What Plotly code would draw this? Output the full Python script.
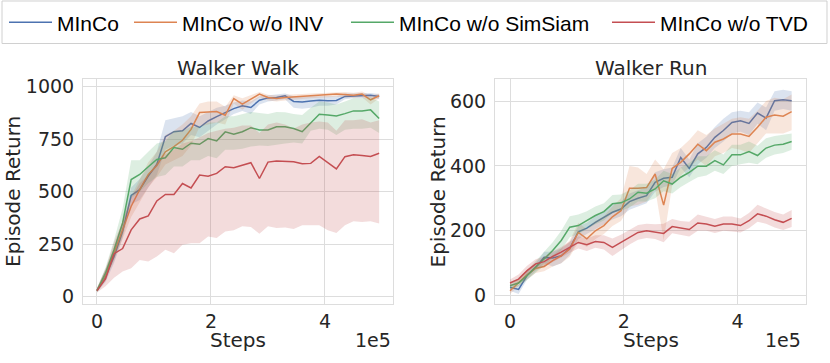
import plotly.graph_objects as go

# ---------------- data ----------------
steps = list(range(0, 500000, 15000))  # 34 evaluation points

series_names = ["MInCo", "MInCo w/o INV", "MInCo w/o SimSiam", "MInCo w/o TVD"]
colors = ["#4c72b0", "#dd8452", "#55a868", "#c44e52"]
fills = ["rgba(76,114,176,0.2)", "rgba(221,132,82,0.2)", "rgba(85,168,104,0.2)", "rgba(196,78,82,0.2)"]

# Walker Walk
walk_mean = [
    [29, 96, 191, 311, 482, 510, 574, 630, 762, 786, 790, 825, 806, 837, 858, 877, 896,
     909, 901, 936, 947, 949, 957, 930, 928, 932, 936, 933, 935, 954, 957, 957, 960, 954],
    [29, 104, 207, 319, 431, 510, 582, 625, 690, 715, 745, 797, 877, 880, 882, 864, 944,
     917, 941, 965, 949, 944, 949, 952, 954, 957, 960, 963, 965, 963, 960, 965, 938, 957],
    [29, 112, 223, 351, 558, 582, 619, 654, 662, 710, 702, 731, 726, 753, 742, 785, 774,
     786, 805, 794, 794, 809, 809, 801, 786, 829, 869, 866, 861, 872, 885, 885, 890, 849],
    [29, 85, 205, 229, 318, 370, 385, 456, 487, 487, 539, 518, 579, 574, 587, 619, 614,
     625, 638, 563, 641, 646, 644, 643, 633, 635, 668, 638, 609, 667, 676, 673, 668, 683],
]
walk_low = [
    [20, 70, 160, 280, 440, 460, 520, 580, 700, 720, 730, 770, 760, 790, 820, 845, 870,
     885, 870, 915, 930, 935, 940, 900, 895, 900, 910, 910, 915, 940, 945, 945, 948, 940],
    [20, 80, 170, 280, 380, 450, 520, 570, 630, 650, 670, 720, 810, 820, 830, 820, 920,
     890, 920, 950, 935, 930, 935, 940, 942, 945, 948, 950, 952, 950, 948, 950, 915, 945],
    [20, 80, 180, 290, 470, 500, 540, 570, 580, 620, 620, 650, 650, 670, 660, 700, 700,
     705, 715, 720, 718, 725, 730, 735, 730, 790, 800, 795, 770, 795, 800, 800, 805, 780],
    [20, 50, 90, 120, 135, 175, 167, 191, 223, 207, 247, 255, 255, 287, 279, 311, 316,
     335, 332, 300, 335, 327, 330, 322, 340, 341, 340, 316, 303, 340, 359, 356, 359, 348],
]
walk_high = [
    [40, 130, 230, 350, 520, 560, 620, 690, 840, 850, 860, 880, 860, 880, 900, 910, 925,
     935, 930, 955, 960, 962, 968, 955, 955, 955, 958, 955, 955, 968, 968, 968, 970, 965],
    [40, 130, 240, 360, 480, 560, 640, 690, 770, 790, 820, 860, 920, 930, 930, 905, 960,
     945, 960, 975, 962, 958, 962, 962, 965, 968, 970, 972, 975, 975, 972, 978, 958, 968],
    [40, 140, 270, 420, 650, 650, 690, 730, 740, 790, 790, 810, 810, 830, 830, 860, 860,
     870, 880, 875, 870, 880, 878, 870, 865, 900, 930, 925, 915, 930, 945, 945, 950, 930],
    [40, 130, 260, 360, 470, 540, 580, 640, 680, 700, 730, 740, 760, 780, 790, 800, 805,
     815, 815, 780, 820, 830, 820, 800, 820, 830, 835, 830, 790, 840, 840, 845, 830, 840],
]

# Walker Run
run_mean = [
    [26, 19, 62, 87, 118, 116, 123, 146, 197, 208, 226, 242, 257, 267, 290, 300, 308,
     349, 362, 365, 426, 392, 437, 457, 488, 509, 534, 539, 531, 563, 547, 601, 604, 601],
    [15, 41, 64, 84, 90, 108, 123, 144, 195, 175, 200, 216, 243, 262, 331, 331, 333,
     375, 279, 392, 411, 437, 467, 447, 473, 483, 498, 498, 491, 519, 550, 557, 553, 567],
    [31, 39, 62, 87, 113, 139, 170, 211, 216, 231, 247, 259, 283, 286, 298, 319, 316,
     329, 354, 344, 365, 380, 399, 399, 416, 403, 434, 434, 444, 432, 455, 464, 467, 475],
    [39, 51, 77, 98, 105, 121, 134, 149, 164, 157, 167, 164, 149, 164, 180, 195, 200,
     197, 192, 213, 209, 204, 224, 221, 214, 221, 221, 216, 231, 252, 245, 234, 226, 238],
]
run_low = [
    [15, 5, 50, 75, 100, 90, 100, 125, 175, 190, 205, 220, 235, 245, 265, 275, 285,
     320, 335, 340, 395, 365, 405, 425, 455, 475, 500, 505, 495, 530, 510, 570, 575, 570],
    [5, 30, 50, 70, 75, 90, 100, 120, 165, 150, 175, 190, 215, 230, 275, 280, 290,
     330, 170, 340, 370, 395, 420, 400, 430, 440, 455, 450, 440, 470, 500, 500, 500, 510],
    [20, 28, 48, 70, 92, 115, 140, 180, 190, 205, 220, 232, 255, 262, 272, 290, 290,
     300, 322, 315, 335, 350, 365, 370, 385, 375, 400, 405, 410, 405, 425, 435, 440, 450],
    [28, 38, 62, 85, 90, 105, 118, 132, 145, 138, 148, 142, 122, 140, 158, 172, 178,
     175, 165, 192, 188, 182, 200, 200, 193, 200, 198, 195, 208, 228, 222, 210, 202, 212],
]
run_high = [
    [37, 33, 75, 100, 135, 135, 145, 165, 215, 225, 245, 262, 280, 290, 315, 325, 335,
     380, 390, 395, 455, 420, 470, 490, 520, 545, 565, 570, 565, 595, 580, 630, 635, 630],
    [25, 55, 80, 100, 105, 125, 145, 170, 225, 205, 230, 245, 275, 300, 400, 395, 375,
     420, 390, 440, 455, 480, 510, 495, 515, 530, 545, 550, 545, 570, 600, 610, 605, 620],
    [42, 52, 78, 105, 135, 165, 200, 245, 250, 260, 275, 285, 310, 312, 325, 345, 345,
     358, 385, 375, 395, 410, 430, 430, 448, 435, 465, 465, 475, 462, 485, 492, 495, 500],
    [50, 65, 92, 112, 120, 137, 150, 167, 183, 176, 186, 186, 176, 188, 202, 218, 222,
     220, 222, 236, 230, 228, 250, 244, 236, 244, 244, 238, 255, 280, 268, 258, 250, 264],
]

panel_titles = ["Walker Walk", "Walker Run"]
x_tickvals = [0, 200000, 400000]
x_ticktext = ["0", "2", "4"]
walk_yticks = [0, 250, 500, 750, 1000]
run_yticks = [0, 200, 400, 600]

# ---------------- figure ----------------
fig = go.Figure()
panels = [("x", "y", walk_mean, walk_low, walk_high, True),
          ("x2", "y2", run_mean, run_low, run_high, False)]
for xa, ya, mean, low, high, show in panels:
    for k, name in enumerate(series_names):
        fig.add_trace(go.Scatter(x=steps, y=low[k], xaxis=xa, yaxis=ya, mode="lines",
                                 line=dict(width=0, color=colors[k]), showlegend=False,
                                 hoverinfo="skip"))
        fig.add_trace(go.Scatter(x=steps, y=high[k], xaxis=xa, yaxis=ya, mode="lines",
                                 line=dict(width=0, color=colors[k]), fill="tonexty",
                                 fillcolor=fills[k], showlegend=False, hoverinfo="skip"))
        fig.add_trace(go.Scatter(x=steps, y=mean[k], xaxis=xa, yaxis=ya, mode="lines",
                                 line=dict(width=1.5, color=colors[k]), name=name,
                                 showlegend=show,
                                 legend=("legend" if k == 0 else "legend%d" % (k + 1))))

FONT = "DejaVu Sans"
TXT = "#262626"
GRID = "#dddddd"
axis_common = dict(showgrid=True, gridcolor=GRID, gridwidth=1, zeroline=False,
                   showline=True, linecolor=GRID, linewidth=1, mirror=True,
                   tickfont=dict(family=FONT, size=19, color=TXT))

dom_l = [0.0, 0.42877]
dom_r = [0.56985, 1.0]
fig.update_layout(
    xaxis=dict(domain=dom_l, range=[-24500, 519300], tickvals=x_tickvals, ticktext=x_ticktext,
               anchor="y", ticks="", **axis_common),
    yaxis=dict(domain=[0, 1], range=[-35, 1037], tickvals=walk_yticks, anchor="x",
               ticks="outside", ticklen=4, tickcolor="rgba(0,0,0,0)", **axis_common),
    xaxis2=dict(domain=dom_r, range=[-26400, 520200], tickvals=x_tickvals, ticktext=x_ticktext,
                anchor="y2", ticks="", **axis_common),
    yaxis2=dict(domain=[0, 1], range=[-25.7, 667.8], tickvals=run_yticks, anchor="x2",
                ticks="outside", ticklen=4, tickcolor="rgba(0,0,0,0)", **axis_common),
    width=830, height=363,
    margin=dict(l=83, r=24, t=79, b=59, autoexpand=False),
    plot_bgcolor="white", paper_bgcolor="white",
    font=dict(family=FONT, color=TXT),
)

# legend box
fig.add_shape(type="rect", xref="paper", yref="paper",
              x0=-0.11203, x1=1.02904, y0=1.15778, y1=1.3467,
              line=dict(color="#d0d0d0", width=1), fillcolor="white", layer="below")

leg_x = [4, 129, 346, 607]
for k in range(4):
    key = "legend" if k == 0 else "legend%d" % (k + 1)
    fig.update_layout({key: dict(xref="container", yref="container", x=leg_x[k] / 830.0,
                                 y=1 - 22.7 / 363.0, xanchor="left", yanchor="middle",
                                 orientation="h", itemwidth=43, bgcolor="rgba(0,0,0,0)",
                                 borderwidth=0,
                                 font=dict(family="Liberation Sans", size=21, color="#000000"))})

# titles and labels
centers = [(dom_l[0] + dom_l[1]) / 2, (dom_r[0] + dom_r[1]) / 2]
for c, t in zip(centers, panel_titles):
    fig.add_annotation(text=t, x=c, y=1.0489, xref="paper", yref="paper", showarrow=False,
                       xanchor="center", yanchor="middle", font=dict(family=FONT, size=20, color=TXT))
    fig.add_annotation(text="Steps", x=c, y=-0.16, xref="paper", yref="paper", showarrow=False,
                       xanchor="center", yanchor="middle", font=dict(family=FONT, size=20, color=TXT))
for xr in [dom_l[1], 0.9959]:
    fig.add_annotation(text="1e5", x=xr, y=-0.16, xref="paper", yref="paper", showarrow=False,
                       xanchor="right", yanchor="middle", font=dict(family=FONT, size=19, color=TXT))
for xp in [-0.0975, 0.491]:
    fig.add_annotation(text="Episode Return", x=xp, y=0.5, xref="paper", yref="paper",
                       showarrow=False, textangle=-90, xanchor="center", yanchor="middle",
                       font=dict(family=FONT, size=20, color=TXT))

# remove the browser's default page margin so the figure sits at the top-left corner
fig.write_html("out.html", config={"displayModeBar": False},
               post_script="document.body.style.margin='0';")
